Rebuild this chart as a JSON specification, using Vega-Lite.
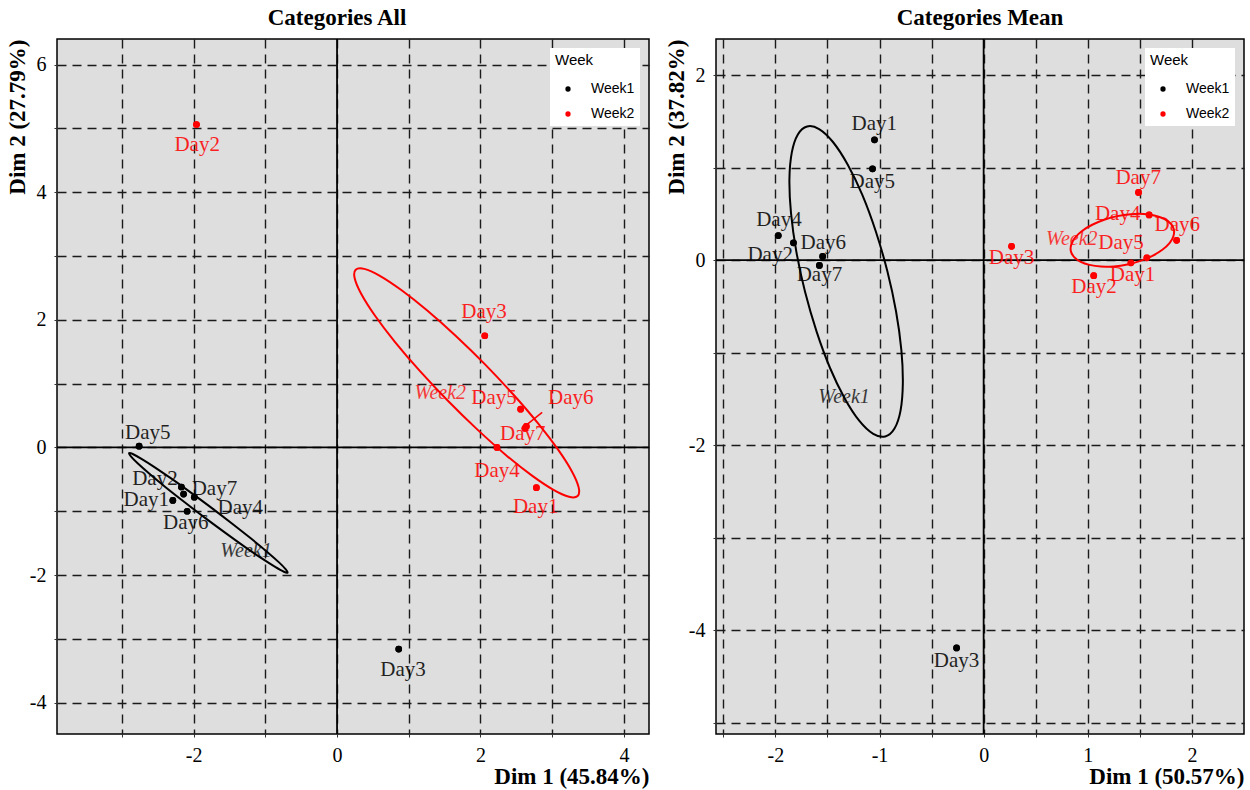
{
  "$schema": "https://vega.github.io/schema/vega-lite/v6.json",
  "padding": {"left": 5, "top": 6, "right": 2, "bottom": 4},
  "spacing": 13,
  "config": {
    "view": {"fill": "#DEDEDE", "stroke": "black", "strokeWidth": 1.5},
    "axis": {
      "domain": false,
      "grid": true, "gridColor": "#1a1a1a", "gridDash": [9, 6], "gridWidth": 1.4, "gridOpacity": 1,
      "ticks": true, "tickSize": 3, "tickColor": "#333333", "tickWidth": 1,
      "labelFont": "Liberation Serif", "labelFontSize": 20, "labelColor": "black", "labelPadding": 8,
      "labelFlush": false, "labelOverlap": false,
      "titleFont": "Liberation Serif", "titleFontSize": 23, "titleFontWeight": "bold", "titleColor": "black",
      "titleAnchor": "end", "titlePadding": 0
    },
    "legend": {
      "orient": "top-right", "offset": 9, "fillColor": "white", "padding": 5,
      "titleFont": "Liberation Sans", "titleFontSize": 15, "titleFontWeight": "normal", "titleColor": "black",
      "labelFont": "Liberation Sans", "labelFontSize": 14, "labelColor": "black",
      "symbolSize": 28, "symbolType": "circle", "symbolOffset": 6, "labelOffset": 16,
      "rowPadding": 11, "titlePadding": 14, "symbolStrokeWidth": 0
    },
    "title": {"font": "Liberation Serif", "fontSize": 23, "fontWeight": "bold", "color": "black", "offset": 8, "frame": "group"}
  },
  "datasets": {
    "ptsA": [
      {"day": "Day1", "week": "Week1", "x": -2.29, "y": -0.83, "lx": -2.66, "ly": -0.83},
      {"day": "Day2", "week": "Week1", "x": -2.17, "y": -0.62, "lx": -2.54, "ly": -0.49},
      {"day": "Day3", "week": "Week1", "x": 0.86, "y": -3.16, "lx": 0.92, "ly": -3.48},
      {"day": "Day4", "week": "Week1", "x": -2.14, "y": -0.73, "lx": -1.35, "ly": -0.95},
      {"day": "Day5", "week": "Week1", "x": -2.76, "y": 0.02, "lx": -2.64, "ly": 0.22},
      {"day": "Day6", "week": "Week1", "x": -2.09, "y": -1.0, "lx": -2.11, "ly": -1.19},
      {"day": "Day7", "week": "Week1", "x": -1.99, "y": -0.78, "lx": -1.71, "ly": -0.65},
      {"day": "Day1", "week": "Week2", "x": 2.78, "y": -0.63, "lx": 2.77, "ly": -0.93},
      {"day": "Day2", "week": "Week2", "x": -1.96, "y": 5.06, "lx": -1.95, "ly": 4.74},
      {"day": "Day3", "week": "Week2", "x": 2.06, "y": 1.75, "lx": 2.05, "ly": 2.12},
      {"day": "Day4", "week": "Week2", "x": 2.23, "y": 0.0, "lx": 2.23, "ly": -0.37},
      {"day": "Day5", "week": "Week2", "x": 2.56, "y": 0.6, "lx": 2.19, "ly": 0.77},
      {"day": "Day6", "week": "Week2", "x": 2.64, "y": 0.33, "lx": 3.26, "ly": 0.77},
      {"day": "Day7", "week": "Week2", "x": 2.62, "y": 0.3, "lx": 2.59, "ly": 0.21}
    ],
    "ptsB": [
      {"day": "Day1", "week": "Week1", "x": -1.048, "y": 1.3, "lx": -1.05, "ly": 1.47},
      {"day": "Day2", "week": "Week1", "x": -1.546, "y": 0.04, "lx": -2.05, "ly": 0.057},
      {"day": "Day3", "week": "Week1", "x": -0.26, "y": -4.19, "lx": -0.26, "ly": -4.33},
      {"day": "Day4", "week": "Week1", "x": -1.972, "y": 0.266, "lx": -1.966, "ly": 0.43},
      {"day": "Day5", "week": "Week1", "x": -1.067, "y": 0.987, "lx": -1.07, "ly": 0.84},
      {"day": "Day6", "week": "Week1", "x": -1.826, "y": 0.187, "lx": -1.54, "ly": 0.19},
      {"day": "Day7", "week": "Week1", "x": -1.577, "y": -0.057, "lx": -1.577, "ly": -0.165},
      {"day": "Day1", "week": "Week2", "x": 1.414, "y": -0.029, "lx": 1.43, "ly": -0.16},
      {"day": "Day2", "week": "Week2", "x": 1.057, "y": -0.168, "lx": 1.06, "ly": -0.286},
      {"day": "Day3", "week": "Week2", "x": 0.268, "y": 0.15, "lx": 0.268, "ly": 0.025},
      {"day": "Day4", "week": "Week2", "x": 1.589, "y": 0.489, "lx": 1.287, "ly": 0.5},
      {"day": "Day5", "week": "Week2", "x": 1.567, "y": 0.025, "lx": 1.32, "ly": 0.19},
      {"day": "Day6", "week": "Week2", "x": 1.853, "y": 0.214, "lx": 1.86, "ly": 0.375},
      {"day": "Day7", "week": "Week2", "x": 1.487, "y": 0.732, "lx": 1.484, "ly": 0.89}
    ],
    "ellA": [
      {"week": "Week1", "i": 0, "x": -0.690, "y": -1.960},
      {"week": "Week1", "i": 1, "x": -0.741, "y": -1.948},
      {"week": "Week1", "i": 2, "x": -0.863, "y": -1.872},
      {"week": "Week1", "i": 3, "x": -1.049, "y": -1.739},
      {"week": "Week1", "i": 4, "x": -1.286, "y": -1.558},
      {"week": "Week1", "i": 5, "x": -1.557, "y": -1.339},
      {"week": "Week1", "i": 6, "x": -1.845, "y": -1.100},
      {"week": "Week1", "i": 7, "x": -2.129, "y": -0.855},
      {"week": "Week1", "i": 8, "x": -2.391, "y": -0.623},
      {"week": "Week1", "i": 9, "x": -2.612, "y": -0.417},
      {"week": "Week1", "i": 10, "x": -2.777, "y": -0.253},
      {"week": "Week1", "i": 11, "x": -2.875, "y": -0.141},
      {"week": "Week1", "i": 12, "x": -2.900, "y": -0.090},
      {"week": "Week1", "i": 13, "x": -2.849, "y": -0.103},
      {"week": "Week1", "i": 14, "x": -2.727, "y": -0.178},
      {"week": "Week1", "i": 15, "x": -2.541, "y": -0.311},
      {"week": "Week1", "i": 16, "x": -2.304, "y": -0.493},
      {"week": "Week1", "i": 17, "x": -2.033, "y": -0.711},
      {"week": "Week1", "i": 18, "x": -1.745, "y": -0.950},
      {"week": "Week1", "i": 19, "x": -1.461, "y": -1.195},
      {"week": "Week1", "i": 20, "x": -1.199, "y": -1.428},
      {"week": "Week1", "i": 21, "x": -0.978, "y": -1.633},
      {"week": "Week1", "i": 22, "x": -0.813, "y": -1.797},
      {"week": "Week1", "i": 23, "x": -0.715, "y": -1.909},
      {"week": "Week2", "i": 0, "x": 3.355, "y": -0.760},
      {"week": "Week2", "i": 1, "x": 3.235, "y": -0.773},
      {"week": "Week2", "i": 2, "x": 3.018, "y": -0.665},
      {"week": "Week2", "i": 3, "x": 2.719, "y": -0.442},
      {"week": "Week2", "i": 4, "x": 2.357, "y": -0.121},
      {"week": "Week2", "i": 5, "x": 1.958, "y": 0.279},
      {"week": "Week2", "i": 6, "x": 1.549, "y": 0.728},
      {"week": "Week2", "i": 7, "x": 1.157, "y": 1.196},
      {"week": "Week2", "i": 8, "x": 0.809, "y": 1.652},
      {"week": "Week2", "i": 9, "x": 0.530, "y": 2.064},
      {"week": "Week2", "i": 10, "x": 0.338, "y": 2.405},
      {"week": "Week2", "i": 11, "x": 0.246, "y": 2.651},
      {"week": "Week2", "i": 12, "x": 0.260, "y": 2.785},
      {"week": "Week2", "i": 13, "x": 0.380, "y": 2.798},
      {"week": "Week2", "i": 14, "x": 0.597, "y": 2.690},
      {"week": "Week2", "i": 15, "x": 0.896, "y": 2.467},
      {"week": "Week2", "i": 16, "x": 1.258, "y": 2.146},
      {"week": "Week2", "i": 17, "x": 1.657, "y": 1.747},
      {"week": "Week2", "i": 18, "x": 2.067, "y": 1.298},
      {"week": "Week2", "i": 19, "x": 2.458, "y": 0.829},
      {"week": "Week2", "i": 20, "x": 2.806, "y": 0.373},
      {"week": "Week2", "i": 21, "x": 3.085, "y": -0.039},
      {"week": "Week2", "i": 22, "x": 3.277, "y": -0.380},
      {"week": "Week2", "i": 23, "x": 3.369, "y": -0.626}
    ],
    "ellB": [
      {"week": "Week1", "i": 0, "x": -1.695, "y": 1.445},
      {"week": "Week1", "i": 1, "x": -1.580, "y": 1.417},
      {"week": "Week1", "i": 2, "x": -1.447, "y": 1.277},
      {"week": "Week1", "i": 3, "x": -1.306, "y": 1.034},
      {"week": "Week1", "i": 4, "x": -1.165, "y": 0.705},
      {"week": "Week1", "i": 5, "x": -1.036, "y": 0.312},
      {"week": "Week1", "i": 6, "x": -0.925, "y": -0.118},
      {"week": "Week1", "i": 7, "x": -0.841, "y": -0.555},
      {"week": "Week1", "i": 8, "x": -0.790, "y": -0.971},
      {"week": "Week1", "i": 9, "x": -0.776, "y": -1.335},
      {"week": "Week1", "i": 10, "x": -0.798, "y": -1.625},
      {"week": "Week1", "i": 11, "x": -0.856, "y": -1.819},
      {"week": "Week1", "i": 12, "x": -0.945, "y": -1.905},
      {"week": "Week1", "i": 13, "x": -1.060, "y": -1.877},
      {"week": "Week1", "i": 14, "x": -1.193, "y": -1.737},
      {"week": "Week1", "i": 15, "x": -1.334, "y": -1.494},
      {"week": "Week1", "i": 16, "x": -1.475, "y": -1.165},
      {"week": "Week1", "i": 17, "x": -1.604, "y": -0.772},
      {"week": "Week1", "i": 18, "x": -1.715, "y": -0.342},
      {"week": "Week1", "i": 19, "x": -1.799, "y": 0.095},
      {"week": "Week1", "i": 20, "x": -1.850, "y": 0.511},
      {"week": "Week1", "i": 21, "x": -1.865, "y": 0.875},
      {"week": "Week1", "i": 22, "x": -1.842, "y": 1.165},
      {"week": "Week1", "i": 23, "x": -1.784, "y": 1.359},
      {"week": "Week2", "i": 0, "x": 1.827, "y": 0.330},
      {"week": "Week2", "i": 1, "x": 1.798, "y": 0.394},
      {"week": "Week2", "i": 2, "x": 1.737, "y": 0.445},
      {"week": "Week2", "i": 3, "x": 1.648, "y": 0.481},
      {"week": "Week2", "i": 4, "x": 1.538, "y": 0.499},
      {"week": "Week2", "i": 5, "x": 1.414, "y": 0.497},
      {"week": "Week2", "i": 6, "x": 1.284, "y": 0.476},
      {"week": "Week2", "i": 7, "x": 1.158, "y": 0.437},
      {"week": "Week2", "i": 8, "x": 1.043, "y": 0.383},
      {"week": "Week2", "i": 9, "x": 0.948, "y": 0.318},
      {"week": "Week2", "i": 10, "x": 0.880, "y": 0.246},
      {"week": "Week2", "i": 11, "x": 0.842, "y": 0.171},
      {"week": "Week2", "i": 12, "x": 0.837, "y": 0.100},
      {"week": "Week2", "i": 13, "x": 0.867, "y": 0.036},
      {"week": "Week2", "i": 14, "x": 0.928, "y": -0.015},
      {"week": "Week2", "i": 15, "x": 1.016, "y": -0.051},
      {"week": "Week2", "i": 16, "x": 1.126, "y": -0.069},
      {"week": "Week2", "i": 17, "x": 1.250, "y": -0.067},
      {"week": "Week2", "i": 18, "x": 1.380, "y": -0.046},
      {"week": "Week2", "i": 19, "x": 1.506, "y": -0.007},
      {"week": "Week2", "i": 20, "x": 1.621, "y": 0.047},
      {"week": "Week2", "i": 21, "x": 1.716, "y": 0.112},
      {"week": "Week2", "i": 22, "x": 1.785, "y": 0.184},
      {"week": "Week2", "i": 23, "x": 1.822, "y": 0.259}
    ],
    "elabA": [
      {"week": "Week1", "label": "Week1", "x": -1.27, "y": -1.63},
      {"week": "Week2", "label": "Week2", "x": 1.44, "y": 0.86}
    ],
    "elabB": [
      {"week": "Week1", "label": "Week1", "x": -1.34, "y": -1.48},
      {"week": "Week2", "label": "Week2", "x": 0.847, "y": 0.225}
    ],
    "segA": [
      {"week": "Week2", "x": 2.66, "y": 0.37, "x2": 2.86, "y2": 0.55}
    ]
  },
  "hconcat": [
    {
      "width": 592,
      "height": 695,
      "title": {"text": "Categories All", "dx": -16},
      "layer": [
        {
          "data": {"name": "ptsA"},
          "mark": {"type": "point", "filled": true, "opacity": 1, "size": 45},
          "encoding": {
            "x": {"field": "x", "type": "quantitative", "title": "Dim 1 (45.84%)",
                  "scale": {"domain": [-3.905, 4.35], "nice": false, "zero": false},
                  "axis": {"values": [-3, -2, -1, 0, 1, 2, 3, 4], "labelExpr": "datum.value % 2 == 0 ? '' + datum.value : ''"}},
            "y": {"field": "y", "type": "quantitative", "title": "Dim 2 (27.79%)",
                  "scale": {"domain": [-4.49, 6.4], "nice": false, "zero": false},
                  "axis": {"values": [-4, -3, -2, -1, 0, 1, 2, 3, 4, 5, 6], "labelExpr": "datum.value % 2 == 0 ? '' + datum.value : ''"}},
            "color": {"field": "week", "type": "nominal", "title": "Week",
                      "scale": {"domain": ["Week1", "Week2"], "range": ["#000000", "#FF0000"]}}
          }
        },
        {
          "data": {"values": [{}]},
          "mark": {"type": "rule", "color": "black", "strokeWidth": 1.8},
          "encoding": {"x": {"datum": 0}}
        },
        {
          "data": {"values": [{}]},
          "mark": {"type": "rule", "color": "black", "strokeWidth": 1.8},
          "encoding": {"y": {"datum": 0}}
        },
        {
          "data": {"name": "ellA"},
          "mark": {"type": "line", "interpolate": "cardinal-closed", "strokeWidth": 2},
          "encoding": {
            "x": {"field": "x", "type": "quantitative"},
            "y": {"field": "y", "type": "quantitative"},
            "order": {"field": "i"},
            "color": {"field": "week", "type": "nominal"}
          }
        },
        {
          "data": {"name": "segA"},
          "mark": {"type": "rule", "strokeWidth": 1.5},
          "encoding": {
            "x": {"field": "x", "type": "quantitative"},
            "y": {"field": "y", "type": "quantitative"},
            "x2": {"field": "x2"},
            "y2": {"field": "y2"},
            "color": {"field": "week", "type": "nominal"}
          }
        },
        {
          "data": {"name": "ptsA"},
          "mark": {"type": "point", "filled": true, "opacity": 1, "size": 45},
          "encoding": {
            "x": {"field": "x", "type": "quantitative"},
            "y": {"field": "y", "type": "quantitative"},
            "color": {"field": "week", "type": "nominal"}
          }
        },
        {
          "data": {"name": "ptsA"},
          "mark": {"type": "text", "font": "Liberation Serif", "fontSize": 21, "baseline": "middle", "align": "center", "opacity": 0.85},
          "encoding": {
            "x": {"field": "lx", "type": "quantitative"},
            "y": {"field": "ly", "type": "quantitative"},
            "text": {"field": "day"},
            "color": {"field": "week", "type": "nominal"}
          }
        },
        {
          "data": {"name": "elabA"},
          "mark": {"type": "text", "font": "Liberation Serif", "fontSize": 20, "fontStyle": "italic", "baseline": "middle", "align": "center", "opacity": 0.75},
          "encoding": {
            "x": {"field": "x", "type": "quantitative"},
            "y": {"field": "y", "type": "quantitative"},
            "text": {"field": "label"},
            "color": {"field": "week", "type": "nominal"}
          }
        }
      ]
    },
    {
      "width": 528,
      "height": 695,
      "title": {"text": "Categories Mean"},
      "layer": [
        {
          "data": {"name": "ptsB"},
          "mark": {"type": "point", "filled": true, "opacity": 1, "size": 45},
          "encoding": {
            "x": {"field": "x", "type": "quantitative", "title": "Dim 1 (50.57%)",
                  "scale": {"domain": [-2.57, 2.5], "nice": false, "zero": false},
                  "axis": {"values": [-2.5, -2, -1.5, -1, -0.5, 0, 0.5, 1, 1.5, 2], "labelExpr": "datum.value % 1 == 0 ? '' + datum.value : ''"}},
            "y": {"field": "y", "type": "quantitative", "title": "Dim 2 (37.82%)",
                  "scale": {"domain": [-5.12, 2.39], "nice": false, "zero": false},
                  "axis": {"values": [-5, -4, -3, -2, -1, 0, 1, 2], "labelExpr": "datum.value % 2 == 0 ? '' + datum.value : ''"}},
            "color": {"field": "week", "type": "nominal", "title": "Week",
                      "scale": {"domain": ["Week1", "Week2"], "range": ["#000000", "#FF0000"]}}
          }
        },
        {
          "data": {"values": [{}]},
          "mark": {"type": "rule", "color": "black", "strokeWidth": 1.8},
          "encoding": {"x": {"datum": 0}}
        },
        {
          "data": {"values": [{}]},
          "mark": {"type": "rule", "color": "black", "strokeWidth": 1.8},
          "encoding": {"y": {"datum": 0}}
        },
        {
          "data": {"name": "ellB"},
          "mark": {"type": "line", "interpolate": "cardinal-closed", "strokeWidth": 2},
          "encoding": {
            "x": {"field": "x", "type": "quantitative"},
            "y": {"field": "y", "type": "quantitative"},
            "order": {"field": "i"},
            "color": {"field": "week", "type": "nominal"}
          }
        },
        {
          "data": {"name": "ptsB"},
          "mark": {"type": "point", "filled": true, "opacity": 1, "size": 45},
          "encoding": {
            "x": {"field": "x", "type": "quantitative"},
            "y": {"field": "y", "type": "quantitative"},
            "color": {"field": "week", "type": "nominal"}
          }
        },
        {
          "data": {"name": "ptsB"},
          "mark": {"type": "text", "font": "Liberation Serif", "fontSize": 21, "baseline": "middle", "align": "center", "opacity": 0.85},
          "encoding": {
            "x": {"field": "lx", "type": "quantitative"},
            "y": {"field": "ly", "type": "quantitative"},
            "text": {"field": "day"},
            "color": {"field": "week", "type": "nominal"}
          }
        },
        {
          "data": {"name": "elabB"},
          "mark": {"type": "text", "font": "Liberation Serif", "fontSize": 20, "fontStyle": "italic", "baseline": "middle", "align": "center", "opacity": 0.75},
          "encoding": {
            "x": {"field": "x", "type": "quantitative"},
            "y": {"field": "y", "type": "quantitative"},
            "text": {"field": "label"},
            "color": {"field": "week", "type": "nominal"}
          }
        }
      ]
    }
  ],
  "resolve": {
    "scale": {"x": "independent", "y": "independent", "color": "independent"},
    "legend": {"color": "independent"}
  }
}
